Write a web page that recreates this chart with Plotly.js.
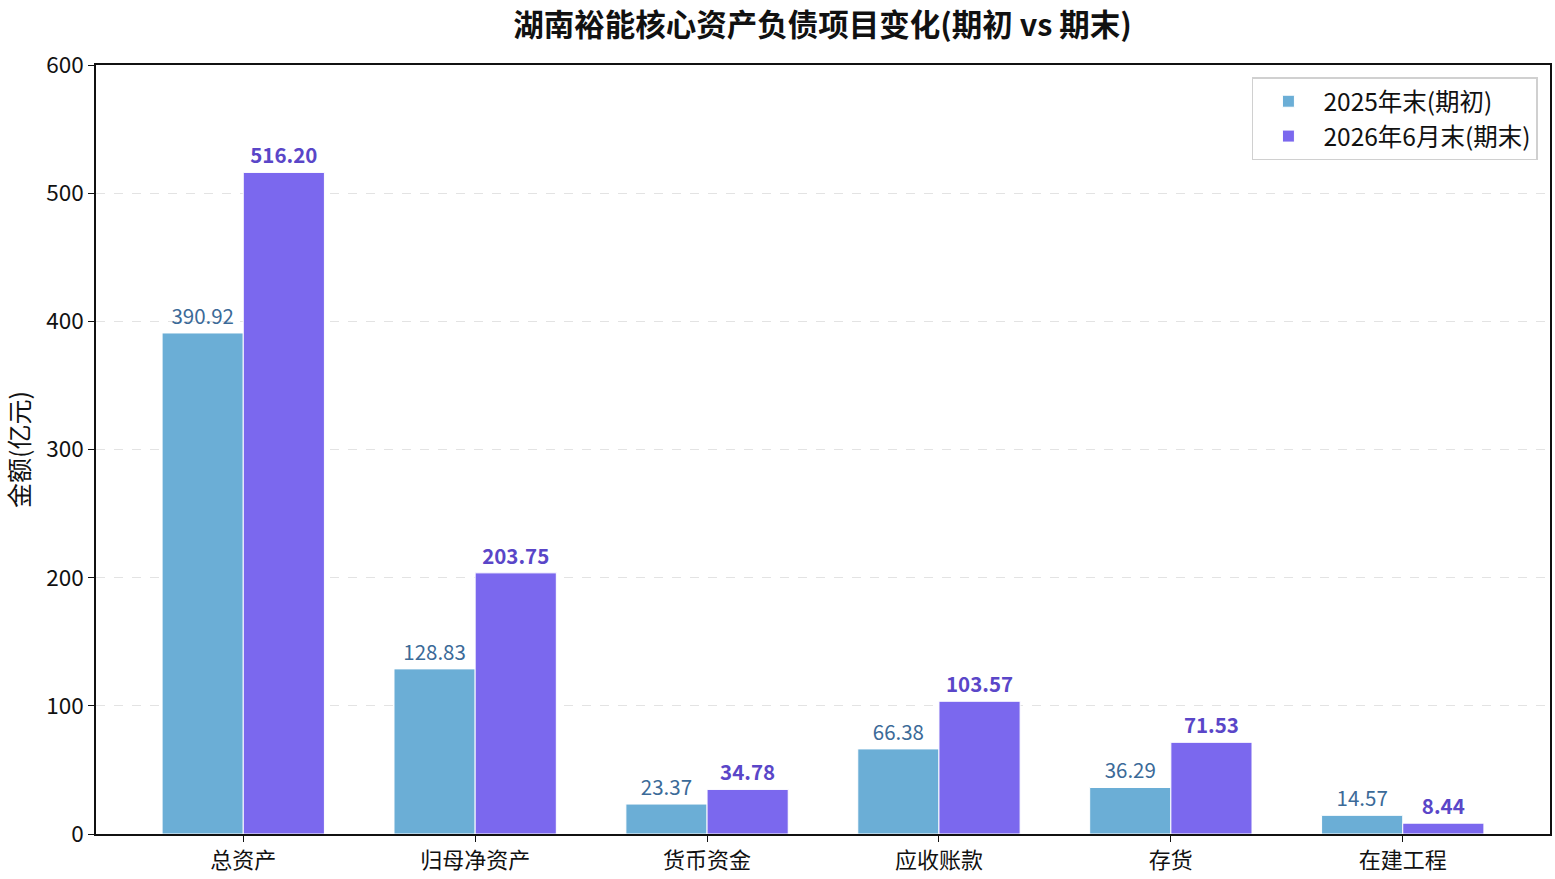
<!DOCTYPE html>
<html>
<head>
<meta charset="utf-8">
<script src="https://cdn.plot.ly/plotly-3.0.1.min.js"></script>
<style>
  html, body { margin: 0; padding: 0; background: #fff; }
  #chart { width: 1555px; height: 879px; }
</style>
</head>
<body>
<div id="chart"></div>
<script>
var categories = ['总资产', '归母净资产', '货币资金', '应收账款', '存货', '在建工程'];
var startValues = [390.92, 128.83, 23.37, 66.38, 36.29, 14.57];
var endValues = [516.20, 203.75, 34.78, 103.57, 71.53, 8.44];
var seriesNames = ['2025年末(期初)', '2026年6月末(期末)'];

var font = '"Noto Sans CJK SC", "Noto Sans", sans-serif';

var trace1 = {
  x: categories,
  y: startValues,
  type: 'bar',
  name: seriesNames[0],
  marker: { color: '#6baed6', line: { color: '#ffffff', width: 1 } },
  text: startValues.map(function (v) { return v.toFixed(2); }),
  textposition: 'outside',
  cliponaxis: false,
  textfont: { family: font, size: 20.5, color: '#3b6a98' }
};

var trace2 = {
  x: categories,
  y: endValues,
  type: 'bar',
  name: seriesNames[1],
  marker: { color: '#7b68ee', line: { color: '#ffffff', width: 1 } },
  text: endValues.map(function (v) { return '<b>' + v.toFixed(2) + '</b>'; }),
  textposition: 'outside',
  cliponaxis: false,
  textfont: { family: font, size: 20.5, color: '#5a46c8' }
};

var data = [trace1, trace2];

var layout = {
  width: 1555,
  height: 879,
  margin: { l: 96, r: 5, t: 65, b: 45 },
  font: { family: font, size: 21, color: '#111' },
  paper_bgcolor: '#fff',
  plot_bgcolor: '#fff',
  barmode: 'group',
  bargap: 0.3,
  bargroupgap: 0,
  title: {
    text: '<b>湖南裕能核心资产负债项目变化(期初 vs 期末)</b>',
    font: { family: font, size: 30.5, color: '#111' },
    x: 0.529,
    xanchor: 'center',
    y: 0.971,
    yanchor: 'middle'
  },
  xaxis: {
    range: [-0.635, 5.635],
    showline: true,
    linecolor: '#111',
    linewidth: 1.5,
    mirror: true,
    ticks: 'outside',
    ticklen: 6,
    tickcolor: '#111',
    showgrid: false,
    tickfont: { family: font, size: 22, color: '#111' }
  },
  yaxis: {
    range: [0, 600],
    dtick: 100,
    showline: true,
    linecolor: '#111',
    linewidth: 1.5,
    mirror: true,
    ticks: 'outside',
    ticklen: 6,
    tickcolor: '#111',
    showgrid: true,
    gridcolor: '#e3e3e3',
    griddash: 'dash',
    gridwidth: 1,
    zeroline: false,
    tickfont: { family: font, size: 22.5, color: '#111' },
    title: {
      text: '金额(亿元)',
      font: { family: font, size: 25, color: '#111' },
      standoff: 10
    }
  },
  legend: {
    x: 0.9917,
    xanchor: 'right',
    y: 0.984,
    yanchor: 'top',
    bgcolor: 'rgba(255,255,255,0.9)',
    bordercolor: '#d0d0d0',
    borderwidth: 1.5,
    font: { family: font, size: 24.5, color: '#111' },
    itemwidth: 60,
    tracegroupgap: 4
  }
};

Plotly.newPlot('chart', data, layout, { displayModeBar: false });
</script>
</body>
</html>
